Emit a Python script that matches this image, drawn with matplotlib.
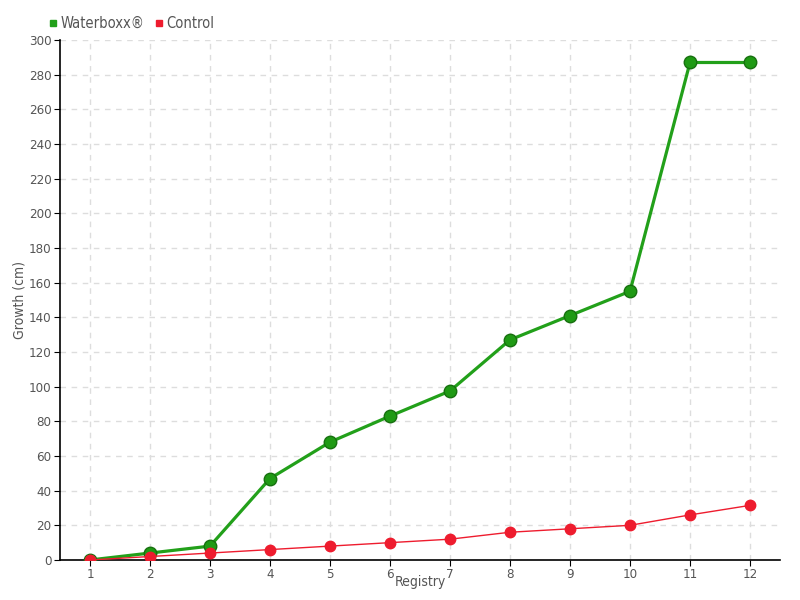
import matplotlib
matplotlib.use("Agg")
import matplotlib.pyplot as plt
from matplotlib.lines import Line2D

registry = [1, 2, 3, 4, 5, 6, 7, 8, 9, 10, 11, 12]
waterboxx = [0, 4, 8, 47, 68, 83, 97.5, 127, 141, 155, 287, 287]
control = [0, 2, 4, 6, 8, 10, 12, 16, 18, 20, 26, 31.5]

plt.rcParams['font.family'] = ['DejaVu Sans']
plt.rcParams['font.stretch'] = 'condensed'

green = "#22a01a"
red = "#ee1c2e"
txt = "#555555"

fig = plt.figure(figsize=(8, 6), dpi=100)
ax = fig.add_axes([0.075, 0.0667, 0.9, 0.8667])

ax.plot(registry, waterboxx, color=green, lw=2.3, marker='o', ms=9,
        mfc="#1f9a14", mec="#17700f", mew=1, zorder=3)
ax.plot(registry, control, color=red, lw=1, marker='o', ms=7.5,
        mfc=red, mec=red, zorder=4)

ax.set_xlim(0.5, 12.5)
ax.set_ylim(0, 300)
ax.set_xticks(registry)
ax.set_yticks(range(0, 301, 20))
ax.grid(True, color="#dddddd", ls=(0, (4, 4)), lw=1)
ax.set_axisbelow(True)
for s in ['top', 'right']:
    ax.spines[s].set_visible(False)
for s in ['left', 'bottom']:
    ax.spines[s].set_color('black')
    ax.spines[s].set_linewidth(1.2)
ax.tick_params(colors='black', labelcolor=txt, labelsize=9.5, length=4, pad=2)
ax.set_xlabel("Registry", color=txt, fontsize=10)
ax.set_ylabel("Growth (cm)", color=txt, fontsize=10)
ax.xaxis.set_label_coords(0.5, -0.028)
ax.yaxis.set_label_coords(-0.046, 0.5)

handles = [Line2D([], [], ls='none', marker='s', ms=5, color=green),
           Line2D([], [], ls='none', marker='s', ms=5, color=red)]
fig.legend(handles, ["Waterboxx®", "Control"], loc='upper left',
           bbox_to_anchor=(0.043, 0.995), ncol=2, frameon=False,
           fontsize=10.5, labelcolor=txt, handletextpad=0.1,
           columnspacing=0.6, handlelength=0.8)

fig.savefig("out.png", dpi=100)
